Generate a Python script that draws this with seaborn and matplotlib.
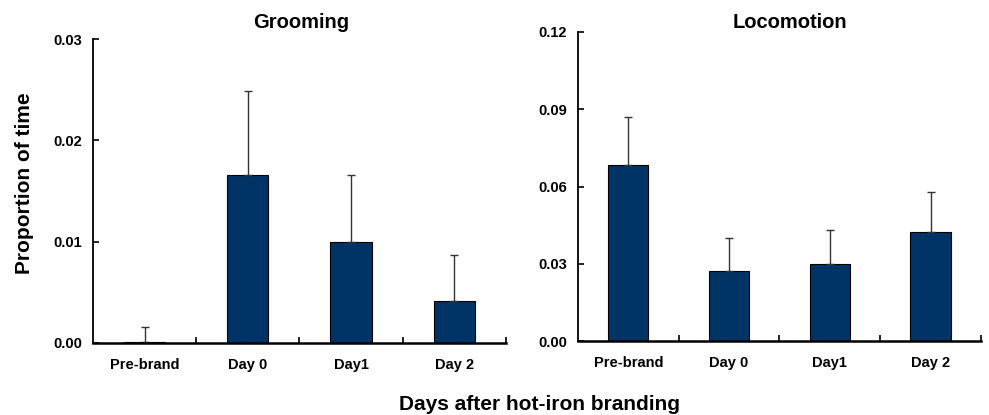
import numpy as np
import pandas as pd
import matplotlib
matplotlib.use("Agg")
import matplotlib.pyplot as plt
import seaborn as sns

days = ["Pre-brand", "Day 0", "Day1", "Day 2"]

grooming_mean = [0.0001, 0.0166, 0.0100, 0.0041]
grooming_se = [0.0015, 0.0083, 0.0066, 0.0046]

locomotion_mean = [0.0682, 0.0270, 0.0298, 0.0425]
locomotion_se = [0.0189, 0.0129, 0.0135, 0.0154]

grooming_ticks = [0.00, 0.01, 0.02, 0.03]
grooming_ticklabels = ["0.00", "0.01", "0.02", "0.03"]
locomotion_ticks = [0.00, 0.03, 0.06, 0.09, 0.12]
locomotion_ticklabels = ["0.00", "0.03", "0.06", "0.09", "0.12"]

sns.set_theme(style="ticks")
plt.rcParams["font.family"] = ["Liberation Sans", "DejaVu Sans"]
plt.rcParams["font.weight"] = "bold"
plt.rcParams["text.color"] = "black"
plt.rcParams["xtick.color"] = "black"
plt.rcParams["ytick.color"] = "black"
plt.rcParams["xtick.labelcolor"] = "black"
plt.rcParams["ytick.labelcolor"] = "black"

BAR_COLOR = "#003366"


def draw_panel(ax, means, ses, yticks, yticklabels):
    df = pd.DataFrame({"day": days, "value": means})
    sns.barplot(data=df, x="day", y="value", order=days, color=BAR_COLOR,
                width=0.4, edgecolor="black", linewidth=0.8, saturation=1,
                errorbar=None, ax=ax)
    x = np.arange(len(days))
    ax.errorbar(x, means, yerr=[np.zeros(len(ses)), ses], fmt="none",
                ecolor="#333333", elinewidth=1.0, capsize=3, capthick=1.0,
                zorder=1)
    ax.set_xlim(-0.5, len(days) - 0.5)
    ax.set_ylim(yticks[0], yticks[-1])
    ax.set_yticks(yticks)
    ax.set_yticklabels(yticklabels, fontsize=10.5, fontweight="bold",
                       color="black")
    ax.set_xticks(x)
    ax.set_xticklabels(days, fontsize=10.5, fontweight="bold", color="black")
    ax.set_xticks(np.arange(len(days)) + 0.5, minor=True)
    ax.tick_params(axis="x", which="major", length=0, pad=11)
    ax.tick_params(axis="x", which="minor", direction="in", length=4,
                   width=1.2, color="black")
    ax.tick_params(axis="y", direction="in", length=4, width=1.2,
                   color="black", pad=8)
    ax.set_xlabel("")
    ax.set_ylabel("")
    sns.despine(ax=ax)
    ax.spines["left"].set_linewidth(1.3)
    ax.spines["bottom"].set_linewidth(1.8)
    ax.spines["left"].set_color("black")
    ax.spines["bottom"].set_color("black")
    ax.set_facecolor("white")


fig = plt.figure(figsize=(9.89, 4.15), dpi=100)
fig.patch.set_facecolor("white")
ax1 = fig.add_axes([0.094, 0.1735, 0.4176, 0.7325])
ax2 = fig.add_axes([0.5844, 0.1783, 0.4075, 0.7446])

draw_panel(ax1, grooming_mean, grooming_se, grooming_ticks, grooming_ticklabels)
draw_panel(ax2, locomotion_mean, locomotion_se, locomotion_ticks,
           locomotion_ticklabels)

fig.text(0.305, 0.945, "Grooming", ha="center", va="center",
         fontsize=14.5, fontweight="bold", color="black")
fig.text(0.799, 0.945, "Locomotion", ha="center", va="center",
         fontsize=14.5, fontweight="bold", color="black")

fig.text(0.025, 0.559, "Proportion of time", rotation=90, ha="center",
         va="center", fontsize=15, fontweight="bold", color="black")
fig.text(0.546, 0.026, "Days after hot-iron branding", ha="center",
         va="center", fontsize=15, fontweight="bold", color="black")

fig.savefig("out.png", dpi=100)
